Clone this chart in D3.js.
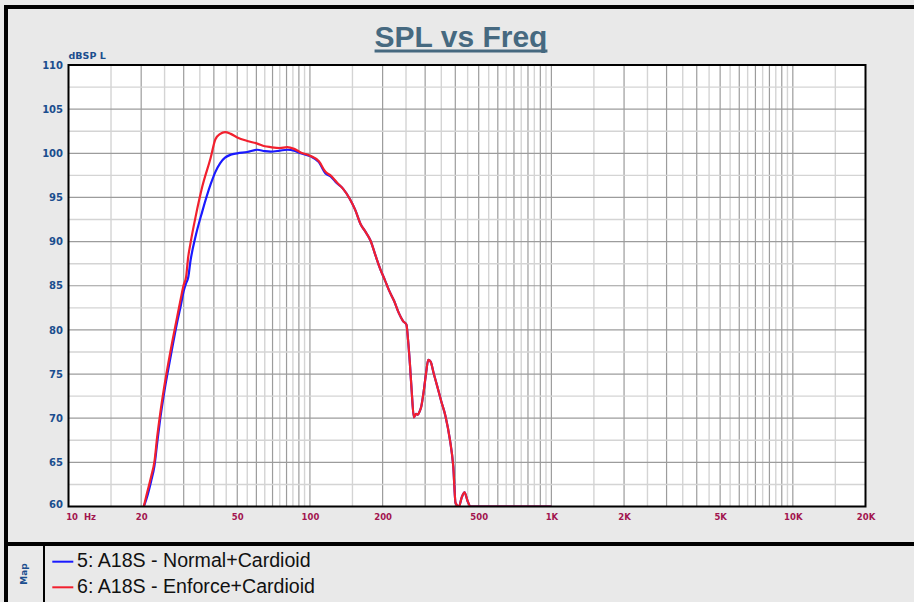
<!DOCTYPE html>
<html>
<head>
<meta charset="utf-8">
<script src="https://cdn.jsdelivr.net/npm/d3@7"></script>
<style>
  html, body { margin: 0; padding: 0; background: #e9e9e9; }
  svg { display: block; }
</style>
</head>
<body>
<svg id="chart" width="914" height="602"></svg>
<script>
// Frequency points (Hz) shared by both measurements
const freqHz = [20.5, 21, 22, 22.7, 23.3, 24, 24.8, 26.5, 28.2, 29.2, 30, 30.7, 31.3, 32, 33.6, 35.8, 38.8, 40.6,
  42.5, 44.5, 47, 50, 55, 60.5, 65, 68.7, 75, 80.5, 86, 91.5, 100.6, 108.9, 116, 121.7, 129.4, 137, 146.5, 154,
  162, 170, 178.3, 187, 196.1, 204, 212.4, 223, 233.5, 243, 251, 255, 259.4, 264, 269.5, 275, 280, 285, 289,
  296.5, 303, 309, 316, 326, 336.8, 350, 364.5, 379.8, 392.4, 401, 414, 425, 436.9, 450, 462.8, 500, 600, 700,
  800, 900, 1000];

// 5: A18S - Normal+Cardioid (dB SPL)
const normalCardioid = [60, 60.8, 62.9, 64.6, 67.2, 70.0, 72.6, 77.0, 80.9, 82.8, 84.4, 85.3, 85.9, 87.8, 90.6, 93.4,
  96.5, 97.9, 98.9, 99.5, 99.85, 100.0, 100.15, 100.4, 100.25, 100.2, 100.3, 100.4, 100.3, 100.0, 99.65, 99.0,
  97.7, 97.4, 96.6, 96.0, 94.8, 93.6, 92.0, 91.1, 90.1, 88.4, 86.8, 85.7, 84.5, 83.3, 81.9, 81.0, 80.6, 78.8,
  76.2, 73.0, 70.1, 70.5, 70.4, 70.8, 71.3, 73.2, 75.2, 76.6, 76.4, 75.0, 73.6, 71.9, 70.2, 67.6, 64.5, 60.4, 60,
  61.0, 61.6, 60.6, 60, 60, 60, 60, 60, 60, 60];

// 6: A18S - Enforce+Cardioid (dB SPL)
const enforceCardioid = [60, 61.2, 63.4, 65.1, 67.9, 70.6, 73.2, 77.7, 81.5, 83.6, 85.1, 86.0, 88.2, 89.8, 92.8, 96.2,
  99.5, 101.6, 102.2, 102.4, 102.2, 101.8, 101.4, 101.1, 100.8, 100.7, 100.6, 100.7, 100.5, 100.1, 99.7, 99.1,
  97.9, 97.5, 96.7, 96.0, 94.8, 93.6, 92.0, 91.1, 90.1, 88.4, 86.8, 85.7, 84.5, 83.3, 81.9, 81.0, 80.6, 78.8,
  76.2, 73.0, 70.1, 70.5, 70.4, 70.8, 71.3, 73.2, 75.2, 76.6, 76.4, 75.0, 73.6, 71.9, 70.2, 67.6, 64.5, 60.4, 60,
  61.0, 61.6, 60.6, 60, 60, 60, 60, 60, 60, 60];

const xTicks = [10, 20, 50, 100, 200, 500, 1000, 2000, 5000, 10000, 20000];
const xTickLabels = ["10 Hz", "20", "50", "100", "200", "500", "1K", "2K", "5K", "10K", "20K"];
const yTicks = [60, 65, 70, 75, 80, 85, 90, 95, 100, 105, 110];

const seriesNames = ["5: A18S - Normal+Cardioid", "6: A18S - Enforce+Cardioid"];
const seriesColors = ["#1a1aff", "#f2202e"];

const svg = d3.select("#chart");
const plotL = 68.5, plotR = 865.5, plotT = 65, plotB = 506.5;

const x = d3.scaleLog().domain([10, 20000]).range([plotL, plotR]);
const y = d3.scaleLinear().domain([60, 110]).range([plotB, plotT]);

// Frame borders
svg.append("rect").attr("x", 4).attr("y", 5).attr("width", 910).attr("height", 4).attr("fill", "#000");
svg.append("rect").attr("x", 4).attr("y", 5).attr("width", 4).attr("height", 597).attr("fill", "#000");
svg.append("rect").attr("x", 4).attr("y", 542).attr("width", 910).attr("height", 4).attr("fill", "#000");
svg.append("rect").attr("x", 43).attr("y", 546).attr("width", 2).attr("height", 56).attr("fill", "#000");

// Title
const title = svg.append("text")
  .attr("x", 461).attr("y", 46.5)
  .attr("text-anchor", "middle")
  .attr("font-family", "'Liberation Sans', Arial, sans-serif")
  .attr("font-weight", "bold").attr("font-size", 30)
  .attr("fill", "#466980")
  .text("SPL vs Freq");
const tw = title.node().getComputedTextLength();
svg.append("rect").attr("x", 461 - tw / 2).attr("y", 49.5).attr("width", tw).attr("height", 3).attr("fill", "#466980");

// Plot background
svg.append("rect").attr("x", plotL).attr("y", plotT).attr("width", plotR - plotL).attr("height", plotB - plotT).attr("fill", "#fff");

// Grid: vertical lines at each 0.5 step of every decade
const grid = svg.append("g");
const vLines = [];
[10, 100, 1000, 10000].forEach(d => {
  for (let m = 1; m < 10; m += 0.5) {
    const f = d * m;
    if (f > 10 && f < 20000) vLines.push({ f, major: Number.isInteger(m) });
  }
});
grid.selectAll("line.v").data(vLines.filter(d => !d.major).concat(vLines.filter(d => d.major))).join("line")
  .attr("x1", d => x(d.f)).attr("x2", d => x(d.f)).attr("y1", plotT).attr("y2", plotB)
  .attr("stroke", d => d.major ? "#9c9c9c" : "#d4d4d4").attr("stroke-width", d => d.major ? 1.2 : 1.4);

const hLines = d3.range(62.5, 110, 2.5).map(v => ({ v, major: v % 5 === 0 }));
grid.selectAll("line.h").data(hLines).join("line")
  .attr("x1", plotL).attr("x2", plotR).attr("y1", d => y(d.v)).attr("y2", d => y(d.v))
  .attr("stroke", d => d.major ? "#9c9c9c" : "#d4d4d4").attr("stroke-width", d => d.major ? 1.2 : 1.4);

// Curves
svg.append("defs").append("clipPath").attr("id", "plotClip")
  .append("rect").attr("x", plotL).attr("y", plotT - 2).attr("width", plotR - plotL).attr("height", plotB - plotT + 2);

const line = d3.line().x(d => x(d[0])).y(d => y(Math.max(60, d[1]))).curve(d3.curveMonotoneX);
const curves = svg.append("g").attr("clip-path", "url(#plotClip)");
[normalCardioid, enforceCardioid].forEach((vals, i) => {
  curves.append("path")
    .datum(freqHz.map((f, k) => [f, vals[k]]))
    .attr("d", line)
    .attr("fill", "none")
    .attr("stroke", seriesColors[i])
    .attr("stroke-width", 2.2)
    .attr("stroke-linejoin", "round");
});

// Plot border
svg.append("rect").attr("x", plotL).attr("y", plotT).attr("width", plotR - plotL).attr("height", plotB - plotT)
  .attr("fill", "none").attr("stroke", "#000").attr("stroke-width", 2);

// Y axis labels
const yAxis = svg.append("g").attr("transform", `translate(${plotL},0)`)
  .call(d3.axisLeft(y).tickValues(yTicks).tickSize(0).tickPadding(5.5).tickFormat(d3.format("d")));
yAxis.select(".domain").remove();
yAxis.selectAll("text")
  .attr("font-family", "'DejaVu Sans', Verdana, sans-serif").attr("font-weight", "bold")
  .attr("font-size", 10).attr("fill", "#1b4e8e")
  .attr("dy", d => d === 60 ? "0.1em" : "0.32em");

svg.append("text").attr("x", 68.5).attr("y", 58.7)
  .attr("font-family", "'DejaVu Sans', Verdana, sans-serif").attr("font-weight", "bold")
  .attr("font-size", 9.5).attr("fill", "#1b4e8e")
  .text("dBSP L");

// X axis labels
const xAxis = svg.append("g").attr("transform", `translate(0,${plotB})`)
  .call(d3.axisBottom(x).tickValues(xTicks).tickSize(0).tickPadding(7)
    .tickFormat((d, i) => xTickLabels[i]));
xAxis.select(".domain").remove();
xAxis.selectAll("text")
  .attr("font-family", "'DejaVu Sans', Verdana, sans-serif").attr("font-weight", "bold")
  .attr("font-size", 8.5).attr("fill", "#a2154f")
  .style("word-spacing", d => d === 10 ? "3px" : null)
  .attr("text-anchor", d => d === 10 ? "start" : "middle")
  .attr("x", d => d === 10 ? -2.8 : 0);

// Legend
svg.append("text")
  .attr("transform", "translate(27.3,574) rotate(-90)")
  .attr("text-anchor", "middle")
  .attr("font-family", "'DejaVu Sans', Verdana, sans-serif").attr("font-weight", "bold")
  .attr("font-size", 9).attr("fill", "#1b4e8e")
  .text("Map");

const legendRows = [561.7, 587.3];
seriesNames.forEach((name, i) => {
  svg.append("line").attr("x1", 52.3).attr("x2", 73.3).attr("y1", legendRows[i]).attr("y2", legendRows[i])
    .attr("stroke", seriesColors[i]).attr("stroke-width", 2);
  svg.append("text").attr("x", 77).attr("y", legendRows[i] + 5.2 + i * 0.8)
    .attr("font-family", "'Liberation Sans', Arial, sans-serif")
    .attr("font-size", 19.6).attr("fill", "#111")
    .text(name);
});
</script>
</body>
</html>
